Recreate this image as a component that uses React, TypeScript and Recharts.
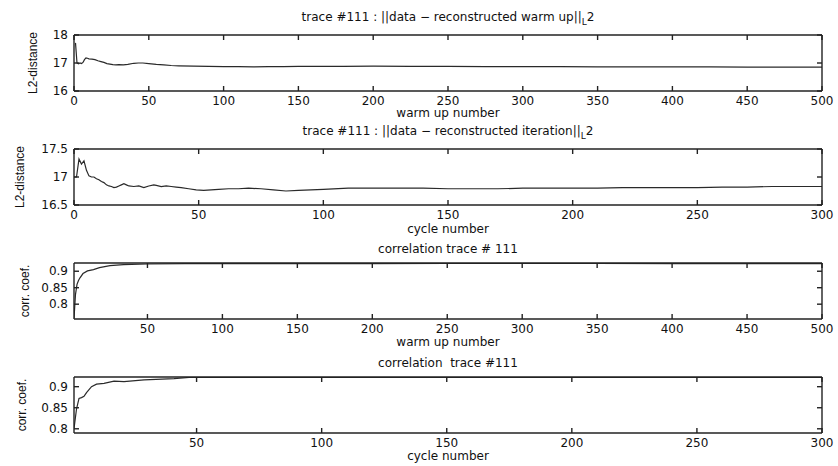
import { LineChart, Line, XAxis, YAxis } from 'recharts'

// warm up L2 distance
const warmUpX = [1, 2, 3, 4, 5, 6, 7, 8, 9, 10, 12, 14, 16, 18, 20, 22, 24, 26, 28, 30, 33, 36, 40, 43, 46, 50, 55, 60, 65, 70, 80, 90, 100, 110, 120, 130, 140, 150, 165, 180, 200, 225, 250, 275, 300, 325, 350, 375, 400, 425, 450, 475, 500]
const warmUpDist = [17.72, 17.0, 16.97, 17.0, 16.98, 17.02, 17.12, 17.18, 17.17, 17.15, 17.14, 17.12, 17.08, 17.05, 17.02, 16.98, 16.96, 16.94, 16.93, 16.94, 16.93, 16.95, 16.99, 17.0, 17.0, 16.98, 16.95, 16.93, 16.91, 16.9, 16.89, 16.88, 16.87, 16.87, 16.86, 16.87, 16.87, 16.88, 16.88, 16.88, 16.89, 16.88, 16.88, 16.87, 16.87, 16.87, 16.86, 16.86, 16.86, 16.86, 16.85, 16.85, 16.85]

// iteration L2 distance
const cycleX = [0, 1, 2, 3, 4, 5, 6, 7, 8, 9, 10, 11, 12, 13, 14, 15, 16, 17, 18, 19, 20, 21, 22, 24, 26, 28, 30, 32, 33, 35, 37, 39, 41, 43, 46, 49, 52, 55, 58, 62, 66, 70, 75, 80, 85, 90, 95, 100, 110, 120, 130, 140, 150, 160, 170, 180, 190, 200, 210, 220, 230, 240, 250, 260, 270, 280, 290, 300]
const cycleDist = [17.0, 17.0, 17.32, 17.23, 17.29, 17.12, 17.02, 17.0, 17.0, 16.97, 16.95, 16.92, 16.9, 16.86, 16.84, 16.83, 16.81, 16.82, 16.84, 16.86, 16.88, 16.86, 16.84, 16.83, 16.84, 16.81, 16.84, 16.86, 16.85, 16.83, 16.84, 16.83, 16.82, 16.81, 16.79, 16.77, 16.76, 16.77, 16.78, 16.79, 16.79, 16.8, 16.79, 16.77, 16.75, 16.76, 16.77, 16.78, 16.8, 16.8, 16.8, 16.8, 16.79, 16.79, 16.79, 16.8, 16.8, 16.8, 16.8, 16.81, 16.81, 16.81, 16.81, 16.82, 16.82, 16.83, 16.83, 16.83]

// correlation, warm up
const warmCorrX = [1, 2, 3, 4, 5, 7, 10, 14, 18, 25, 34, 50, 75, 100, 150, 200, 250, 300, 350, 400, 450, 500]
const warmCorr = [0.757, 0.83, 0.86, 0.872, 0.88, 0.893, 0.901, 0.905, 0.911, 0.917, 0.92, 0.922, 0.923, 0.923, 0.923, 0.923, 0.924, 0.924, 0.924, 0.923, 0.923, 0.923]

// correlation, cycles
const cycleCorrX = [1, 2, 3, 4, 5, 6, 8, 10, 13, 17, 21, 29, 41, 47, 60, 100, 150, 200, 250, 300]
const cycleCorr = [0.8, 0.847, 0.872, 0.874, 0.877, 0.886, 0.9, 0.906, 0.908, 0.913, 0.912, 0.916, 0.919, 0.922, 0.922, 0.922, 0.922, 0.922, 0.922, 0.922]

const ticks500 = [0, 50, 100, 150, 200, 250, 300, 350, 400, 450, 500]
const ticks300 = [0, 50, 100, 150, 200, 250, 300]
const distTicks1 = [16, 17, 18]
const distTicks2 = [16.5, 17, 17.5]
const corrTicks = [0.8, 0.85, 0.9]

const rows = (xs: number[], ys: number[]) => xs.map((x, i) => ({ x, y: ys[i] }))

const W = 838
const LEFT = 74
const RIGHT = 822
const tickFont = { fill: '#111', fontSize: 12, fontFamily: 'DejaVu Sans' }
const noTick = () => <g />

interface PanelProps {
  top: number
  bottom: number
  data: { x: number; y: number }[]
  xDomain: [number, number]
  xTicks: number[]
  yDomain: [number, number]
  yTicks: number[]
}

function Panel({ top, bottom, data, xDomain, xTicks, yDomain, yTicks }: PanelProps) {
  const h = bottom - top
  return (
    <div style={{ position: 'absolute', left: 0, top: top - 10 }}>
      <LineChart width={W} height={h + 40} data={data} margin={{ top: 9, right: W - RIGHT - 1, bottom: 0, left: 0 }}>
        <XAxis xAxisId="b" dataKey="x" type="number" domain={xDomain} ticks={xTicks} allowDataOverflow interval={0}
          height={30} tickSize={-5} tickMargin={10} stroke="#222" strokeWidth={1.4} tick={tickFont} />
        <XAxis xAxisId="t" orientation="top" dataKey="x" type="number" domain={xDomain} ticks={xTicks} allowDataOverflow interval={0}
          height={1} tickSize={-5} stroke="#222" strokeWidth={1.4} tick={noTick} />
        <YAxis yAxisId="l" type="number" domain={yDomain} ticks={yTicks} allowDataOverflow interval={0}
          width={LEFT} tickSize={-5} tickMargin={11} stroke="#222" strokeWidth={1.4} tick={tickFont} />
        <YAxis yAxisId="r" orientation="right" type="number" domain={yDomain} ticks={yTicks} allowDataOverflow interval={0}
          width={1} tickSize={-5} stroke="#222" strokeWidth={1.4} tick={noTick} />
        <Line xAxisId="b" yAxisId="l" dataKey="y" type="linear" stroke="#2a2a2a" strokeWidth={1.2} dot={false} isAnimationActive={false} />
      </LineChart>
    </div>
  )
}

const textBase = { position: 'absolute' as const, fontFamily: 'DejaVu Sans', fontSize: 12, lineHeight: '12px', color: '#111', whiteSpace: 'nowrap' as const }

function Centered({ top, children }: { top: number; children: React.ReactNode }) {
  return <div style={{ ...textBase, left: LEFT, width: RIGHT - LEFT, top, textAlign: 'center' }}>{children}</div>
}

function YLabel({ x, y, text }: { x: number; y: number; text: string }) {
  return (
    <div style={{ ...textBase, fontFamily: 'Liberation Sans', left: x, top: y, transform: 'translate(-50%, -50%) rotate(-90deg)' }}>{text}</div>
  )
}

const L2 = <><sub style={{ fontSize: 9, verticalAlign: 'baseline', position: 'relative', top: 4 }}>L</sub>2</>

export default function App() {
  return (
    <div style={{ position: 'absolute', left: 0, top: 0, width: W, height: 466, background: '#fff', overflow: 'hidden' }}>
      <Panel top={35} bottom={91} data={rows(warmUpX, warmUpDist)} xDomain={[0, 500]} xTicks={ticks500} yDomain={[16, 18]} yTicks={distTicks1} />
      <Panel top={149} bottom={205} data={rows(cycleX, cycleDist)} xDomain={[0, 300]} xTicks={ticks300} yDomain={[16.5, 17.5]} yTicks={distTicks2} />
      <Panel top={263} bottom={319} data={rows(warmCorrX, warmCorr)} xDomain={[1, 500]} xTicks={ticks500.slice(1)} yDomain={[0.755, 0.925]} yTicks={corrTicks} />
      <Panel top={377} bottom={433} data={rows(cycleCorrX, cycleCorr)} xDomain={[1, 300]} xTicks={ticks300.slice(1)} yDomain={[0.79, 0.923]} yTicks={corrTicks} />

      <Centered top={11}>trace #111 : ||data − reconstructed warm up||{L2}</Centered>
      <Centered top={107}>warm up number</Centered>
      <Centered top={125}>trace #111 : ||data − reconstructed iteration||{L2}</Centered>
      <Centered top={223}>cycle number</Centered>
      <Centered top={243}>correlation trace # 111</Centered>
      <Centered top={336}>warm up number</Centered>
      <Centered top={357}>correlation&nbsp;&nbsp;trace #111</Centered>
      <Centered top={450}>cycle number</Centered>

      <YLabel x={33} y={63} text="L2-distance" />
      <YLabel x={20} y={177} text="L2-distance" />
      <YLabel x={25} y={291} text="corr. coef." />
      <YLabel x={22} y={405} text="corr. coef." />
    </div>
  )
}
